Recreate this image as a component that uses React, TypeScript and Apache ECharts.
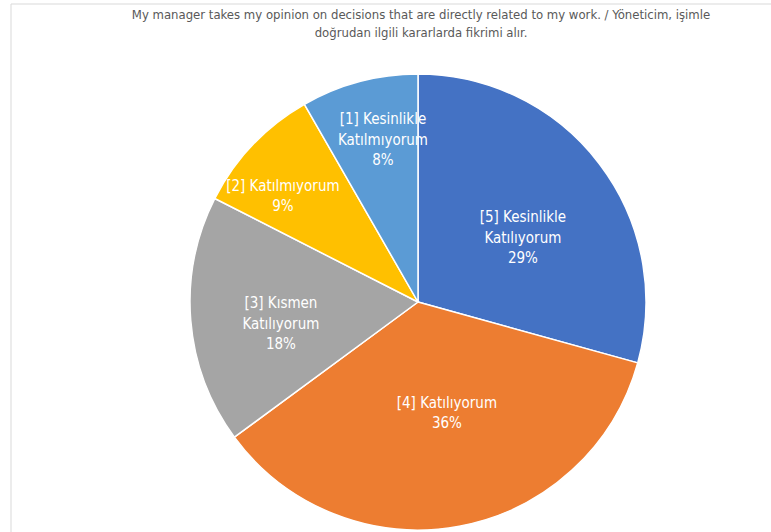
import React, { useEffect, useRef } from "react";
import * as echarts from "echarts";

const titleLines = [
  "My manager takes my opinion on decisions that are directly related to my work. / Yöneticim, işimle",
  "doğrudan ilgili kararlarda fikrimi alır.",
];
const categories = [
  "[5] Kesinlikle\nKatılıyorum",
  "[4] Katılıyorum",
  "[3] Kısmen\nKatılıyorum",
  "[2] Katılmıyorum",
  "[1] Kesinlikle\nKatılmıyorum",
];
const values = [29.3, 35.6, 17.6, 9.2, 8.3];
const colors = ["#4472C4", "#ED7D31", "#A5A5A5", "#FFC000", "#5B9BD5"];

const FONT = "'Liberation Sans Narrow', 'DejaVu Sans Condensed', 'Noto Sans', sans-serif";

export default function App() {
  const ref = useRef<HTMLDivElement>(null);
  useEffect(() => {
    if (!ref.current) return;
    const chart = echarts.init(ref.current, undefined, { renderer: "svg" });
    const cx = 418;
    const cy = 302;
    const R = 228;
    // label anchor placement (fraction of radius, angle clockwise from top, degrees)
    const labelPlace = [
      [0.539, 58.6],
      [0.503, 165.4],
      [0.609, 260.9],
      [0.753, 308.1],
      [0.727, 347.8],
    ];
    chart.setOption({
      animation: false,
      backgroundColor: "#ffffff",
      graphic: [
        { type: "line", shape: { x1: 11, y1: 4, x2: 771, y2: 4 }, style: { stroke: "#d9d9d9", lineWidth: 1 } },
        { type: "line", shape: { x1: 11, y1: 4, x2: 11, y2: 532 }, style: { stroke: "#d9d9d9", lineWidth: 1 } },
        {
          type: "text",
          x: 421,
          y: 5,
          style: {
            text: titleLines.join("\n"),
            font: `13px ${FONT}`,
            fill: "#595959",
            align: "center",
            verticalAlign: "top",
            lineHeight: 18,
          },
        },
      ],
      series: [
        {
          type: "pie",
          center: [cx, cy],
          radius: [0, R],
          startAngle: 90,
          clockwise: true,
          itemStyle: { borderColor: "#ffffff", borderWidth: 1.5 },
          label: {
            show: true,
            position: "inside",
            color: "#ffffff",
            fontSize: 15,
            fontFamily: FONT,
            lineHeight: 20.5,
            formatter: (p: any) => `${p.name}\n${Math.round(p.percent)}%`,
          },
          labelLine: { show: false },
          labelLayout: (p: any) => {
            const [f, a] = labelPlace[p.dataIndex];
            const rad = (a * Math.PI) / 180;
            return { x: cx + Math.sin(rad) * f * R, y: cy - Math.cos(rad) * f * R };
          },
          data: categories.map((name, i) => ({
            name,
            value: values[i],
            itemStyle: { color: colors[i] },
          })),
        },
      ],
    });
    return () => chart.dispose();
  }, []);
  return (
    <div
      ref={ref}
      style={{ position: "fixed", left: 0, top: 0, width: 771, height: 532 }}
    />
  );
}
